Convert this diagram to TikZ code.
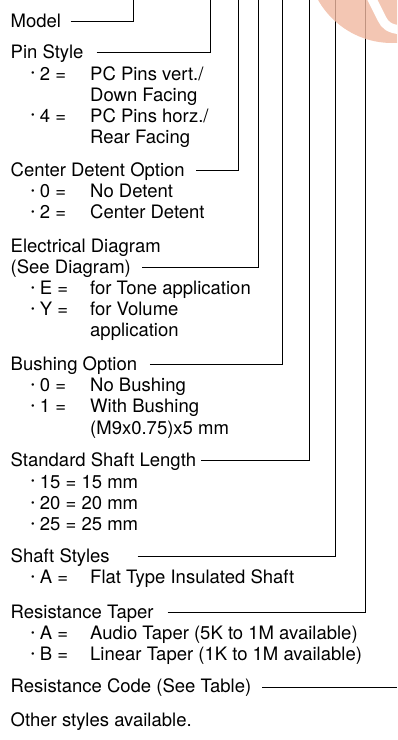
\documentclass[tikz,border=0pt]{standalone}
\usepackage{fontspec}
\setmainfont{TeX Gyre Heros}
\definecolor{logopink}{RGB}{240,184,160}
\newcommand{\bul}{\raisebox{0.17em}{\scalebox{0.55}{\textbullet}}}
\tikzset{
  title/.style={anchor=base west, inner sep=0pt},
  key/.style={anchor=base west, inner sep=0pt},
  lead/.style={line width=0.9pt},
}
\begin{document}
\begin{tikzpicture}[x=1pt, y=-1pt, font=\fontsize{18.5}{21.2}\selectfont]
    \useasboundingbox (0,0) rectangle (397,740);

    % Model
    \node[title] (model) at (10.5,27) {Model};
    \coordinate (modeltop) at (133,0);
    \draw[lead] ([xshift=9.3pt,yshift=5.6pt]model.base east) -| (modeltop);

    % Pin Style
    \node[title] (pin) at (10.5,58.5) {Pin Style};
    \node[key] (pin2) at (31,80) {\bul\ 2 =};
    \node[key] (pin2a) at (90,80) {PC Pins vert./};
    \node[key] (pin2b) at (90,101) {Down Facing};
    \node[key] (pin4) at (31,122) {\bul\ 4 =};
    \node[key] (pin4a) at (90,122) {PC Pins horz./};
    \node[key] (pin4b) at (90,143.5) {Rear Facing};
    \coordinate (pintop) at (210.7,0);
    \draw[lead] ([xshift=13pt,yshift=5.6pt]pin.base east) -| (pintop);

    % Center Detent Option
    \node[title] (detent) at (10.5,176.5) {Center Detent Option};
    \node[key] (det0) at (31,197.5) {\bul\ 0 =};
    \node[key] (det0a) at (90,197.5) {No Detent};
    \node[key] (det2) at (31,218.5) {\bul\ 2 =};
    \node[key] (det2a) at (90,218.5) {Center Detent};
    \coordinate (detenttop) at (238.7,0);
    \draw[lead] ([xshift=11.3pt,yshift=5.6pt]detent.base east) -| (detenttop);

    % Electrical Diagram
    \node[title] (elec) at (10.5,252) {Electrical Diagram};
    \node[title] (elecsee) at (10.5,273) {(See Diagram)};
    \node[key] (elecE) at (31,294.3) {\bul\ E =};
    \node[key] (elecEa) at (90,294.3) {for Tone application};
    \node[key] (elecY) at (31,315.5) {\bul\ Y =};
    \node[key] (elecYa) at (90,315.5) {for Volume};
    \node[key] (elecYb) at (90,336.7) {application};
    \coordinate (electop) at (258.7,0);
    \draw[lead] ([xshift=11pt,yshift=5.6pt]elecsee.base east) -| (electop);

    % Bushing Option
    \node[title] (bush) at (10.5,370.5) {Bushing Option};
    \node[key] (bush0) at (31,391.7) {\bul\ 0 =};
    \node[key] (bush0a) at (90,391.7) {No Bushing};
    \node[key] (bush1) at (31,412.8) {\bul\ 1 =};
    \node[key] (bush1a) at (90,412.8) {With Bushing};
    \node[key] (bush1b) at (90,434) {(M9x0.75)x5 mm};
    \coordinate (bushtop) at (282.7,0);
    \draw[lead] ([xshift=12.7pt,yshift=5.6pt]bush.base east) -| (bushtop);

    % Standard Shaft Length
    \node[title] (len) at (10.5,466.5) {Standard Shaft Length};
    \node[key] (len15) at (31,488) {\bul\ 15 = 15 mm};
    \node[key] (len20) at (31,509.2) {\bul\ 20 = 20 mm};
    \node[key] (len25) at (31,530.4) {\bul\ 25 = 25 mm};
    \coordinate (lentop) at (309.7,0);
    \draw[lead] ([xshift=5pt,yshift=5.6pt]len.base east) -| (lentop);

    % Shaft Styles
    \node[title] (shaft) at (10.5,562.2) {Shaft Styles};
    \node[key] (shaftA) at (31,583.3) {\bul\ A =};
    \node[key] (shaftAa) at (90,583.3) {Flat Type Insulated Shaft};
    \coordinate (shafttop) at (335.7,0);
    \draw[lead] ([xshift=27.7pt,yshift=5.6pt]shaft.base east) -| (shafttop);

    % Resistance Taper
    \node[title] (taper) at (10.5,618.2) {Resistance Taper};
    \node[key] (taperA) at (31,639.5) {\bul\ A =};
    \node[key] (taperAa) at (90,639.5) {Audio Taper (5K to 1M available)};
    \node[key] (taperB) at (31,660.7) {\bul\ B =};
    \node[key] (taperBa) at (90,660.7) {Linear Taper (1K to 1M available)};
    \coordinate (tapertop) at (365.3,0);
    \draw[lead] ([xshift=14pt,yshift=5.6pt]taper.base east) -| (tapertop);

    % Resistance Code
    \node[title] (code) at (10.5,692.6) {Resistance Code (See Table)};
    \coordinate (codeend) at (397,0);
    \draw[lead] ([xshift=10.7pt,yshift=5.6pt]code.base east) -- ([yshift=5.6pt]code.base east -| codeend);

    \node[title] (other) at (10.5,726.5) {Other styles available.};

    % Logo corner
    \begin{scope}
        \clip (0,0) rectangle (397,740);
        \fill[logopink, opacity=0.8] (392,-42) circle (85pt);
        \draw[white, line width=9pt] (370,-5) -- (382,19) .. controls (385,25) and (389,29) .. (402,30);
    \end{scope}
\end{tikzpicture}
\end{document}
